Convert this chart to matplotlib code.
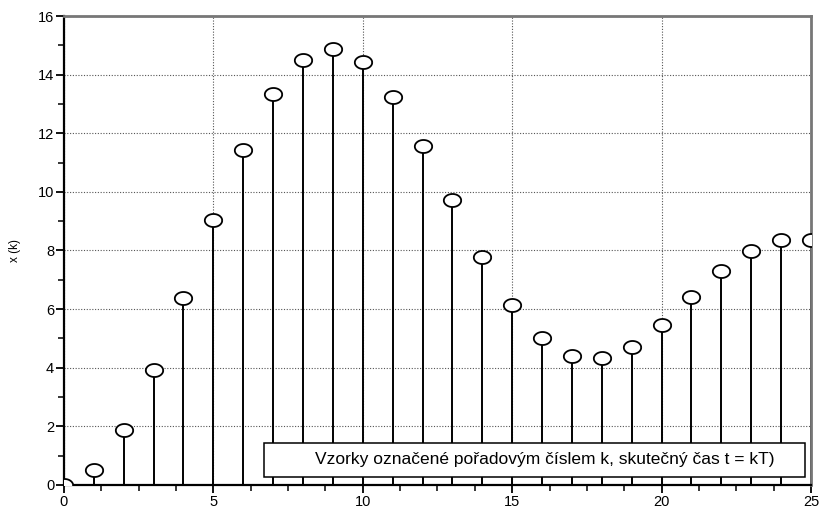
import numpy as np
import matplotlib.pyplot as plt
from matplotlib.path import Path
from matplotlib.patches import Rectangle
from matplotlib.ticker import MultipleLocator

plt.rcParams['font.family'] = ['Liberation Sans', 'DejaVu Sans']

# samples x(k)
k = np.arange(26)
xk = [0.0, 0.5, 1.87, 3.92, 6.38, 9.04, 11.43, 13.34, 14.5, 14.88, 14.44,
      13.24, 11.57, 9.73, 7.78, 6.14, 5.02, 4.4, 4.33, 4.71, 5.46, 6.42,
      7.3, 7.99, 8.36, 8.36]
label_text = 'Vzorky označené pořadovým číslem k, skutečný čas t = kT)'

# elliptical marker (wider than tall)
t = np.linspace(0, 2 * np.pi, 60)
ellipse = Path(np.column_stack([np.cos(t), 0.75 * np.sin(t)]))

fig = plt.figure(figsize=(8.2, 5.08), dpi=100)
ax = fig.add_axes([0.078, 0.0453, 0.911, 0.9232])

ax.vlines(k, 0, xk, colors='black', linewidth=1.4, zorder=2)
ax.plot(k, xk, linestyle='none', marker=ellipse, markersize=12.5,
        markerfacecolor='white', markeredgecolor='black', markeredgewidth=1.3, zorder=3)

ax.set_xlim(0, 25)
ax.set_ylim(0, 16)
ax.xaxis.set_major_locator(MultipleLocator(5))
ax.xaxis.set_minor_locator(MultipleLocator(1.25))
ax.yaxis.set_major_locator(MultipleLocator(2))
ax.yaxis.set_minor_locator(MultipleLocator(1))
ax.tick_params(which='major', direction='out', length=6, width=1.3, labelsize=10.5, pad=1)
ax.tick_params(which='minor', direction='out', length=4, width=1.1)
ax.grid(True, which='major', linestyle=(0, (1, 1.5)), color='#555555', linewidth=0.8)
ax.set_axisbelow(True)

for side in ['left', 'bottom']:
    ax.spines[side].set_linewidth(1.6)
    ax.spines[side].set_color('black')
for side in ['top', 'right']:
    ax.spines[side].set_linewidth(2.0)
    ax.spines[side].set_color('#777777')

ax.set_ylabel('x (k)', fontsize=8.5, labelpad=12)

# text box
ax.add_patch(Rectangle((0.268, 0.017), 0.724, 0.073, transform=ax.transAxes,
                       facecolor='white', edgecolor='black', linewidth=1.1, zorder=5))
ax.text(0.644, 0.0535, label_text, transform=ax.transAxes, ha='center', va='center',
        fontsize=12.5, zorder=6)

fig.savefig('out.png', dpi=100)
